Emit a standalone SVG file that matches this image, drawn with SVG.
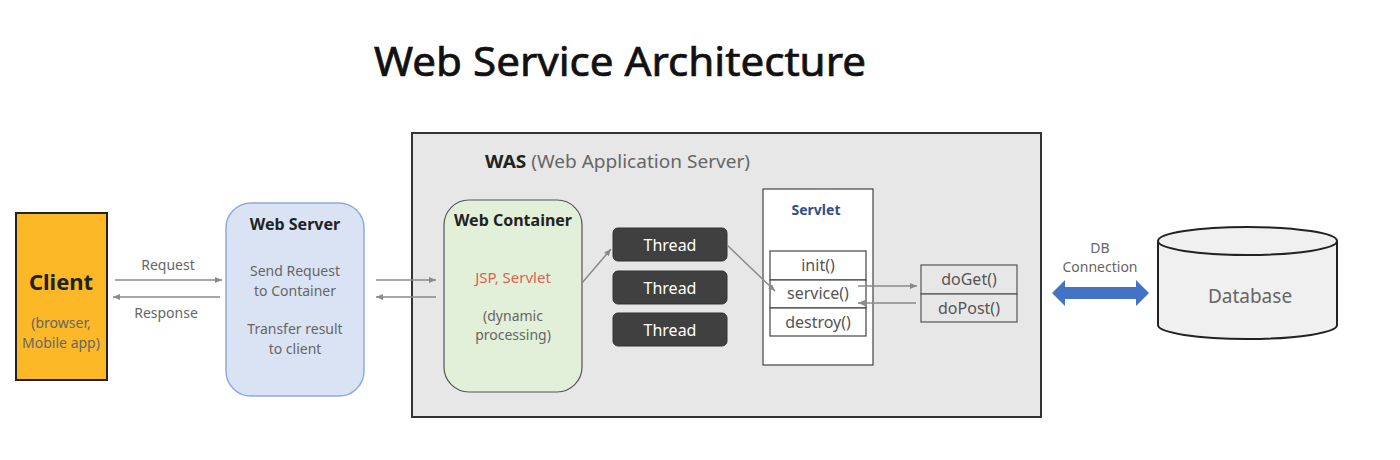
<svg xmlns="http://www.w3.org/2000/svg" width="1400" height="460" viewBox="0 0 1400 460">
<defs>
<marker id="ah" markerWidth="8" markerHeight="8" refX="7" refY="4" orient="auto" markerUnits="userSpaceOnUse">
<path d="M0,1 L7,4 L0,7 z" fill="#8a8a8a"/>
</marker>
<style>
text{font-family:"Noto Sans","Open Sans","Liberation Sans",sans-serif}
.g{fill:#666;font-size:14px;text-anchor:middle}
.b{fill:#222;font-weight:bold;text-anchor:middle}
.m{fill:#555;font-size:16px;text-anchor:middle}
.c{stroke:#8a8a8a;stroke-width:1.5;fill:none;marker-end:url(#ah)}
.box{fill:#fff;stroke:#444;stroke-width:1.2}
.th{fill:#404040;stroke:#333}
.tt{fill:#fff;font-size:16px;text-anchor:middle}
</style>
</defs>
<rect width="1400" height="460" fill="#fff"/>
<text x="620" y="76" font-size="40" fill="#111" stroke="#111" stroke-width="0.7" text-anchor="middle" textLength="492" lengthAdjust="spacingAndGlyphs">Web Service Architecture</text>

<g id="was">
<rect x="412" y="133" width="629" height="284" fill="#e7e7e7" stroke="#333" stroke-width="2"/>
<text x="485" y="168" font-size="18" fill="#666" textLength="265" lengthAdjust="spacingAndGlyphs"><tspan font-weight="bold" fill="#222">WAS</tspan> (Web Application Server)</text>
</g>

<g id="client">
<rect x="16" y="213" width="91" height="167" fill="#fdb827" stroke="#222" stroke-width="2"/>
<text x="61" y="290" class="b" font-size="22">Client</text>
<text x="61" y="328" class="g">(browser,</text>
<text x="61" y="348" class="g">Mobile app)</text>
</g>

<g id="webserver">
<rect x="226" y="203" width="138" height="193" rx="25" fill="#dae3f3" stroke="#8faadc" stroke-width="1.5"/>
<text x="295" y="230" class="b" font-size="16">Web Server</text>
<text x="295" y="276" class="g">Send Request</text>
<text x="295" y="296" class="g">to Container</text>
<text x="295" y="334" class="g">Transfer result</text>
<text x="295" y="354" class="g">to client</text>
</g>

<g id="webcontainer">
<rect x="444" y="200" width="138" height="192" rx="25" fill="#e2f0d9" stroke="#555" stroke-width="1.2"/>
<text x="513" y="226" class="b" font-size="16">Web Container</text>
<text x="513" y="283" font-size="15" fill="#e0604f" text-anchor="middle">JSP, Servlet</text>
<text x="513" y="321" class="g">(dynamic</text>
<text x="513" y="340" class="g">processing)</text>
</g>

<g id="thread1"><rect x="613" y="228" width="114" height="33" rx="5" class="th"/><text x="670" y="251" class="tt">Thread</text></g>
<g id="thread2"><rect x="613" y="271" width="114" height="33" rx="5" class="th"/><text x="670" y="294" class="tt">Thread</text></g>
<g id="thread3"><rect x="613" y="313" width="114" height="33" rx="5" class="th"/><text x="670" y="336" class="tt">Thread</text></g>

<g id="servlet">
<rect x="763" y="189" width="110" height="176" class="box"/>
<text x="816" y="215" font-size="14" font-weight="bold" fill="#2f4e8a" text-anchor="middle">Servlet</text>
<rect x="770" y="251" width="96" height="29" class="box"/>
<text x="818" y="271" class="m">init()</text>
<rect x="770" y="280" width="96" height="28" class="box"/>
<text x="818" y="299" class="m">service()</text>
<rect x="770" y="308" width="96" height="28" class="box"/>
<text x="818" y="328" class="m">destroy()</text>
</g>

<g id="doMethods">
<rect x="921" y="265" width="96" height="29" fill="#e7e7e7" stroke="#555" stroke-width="1.2"/>
<text x="969" y="285" class="m">doGet()</text>
<rect x="921" y="294" width="96" height="28" fill="#e7e7e7" stroke="#555" stroke-width="1.2"/>
<text x="969" y="314" class="m">doPost()</text>
</g>

<g id="database">
<path d="M1158,241 L1158,325 A89.5,14 0 0 0 1337,325 L1337,241" fill="#f0f0f0" stroke="#222" stroke-width="2"/>
<ellipse cx="1247.5" cy="241" rx="89.5" ry="14" fill="#f0f0f0" stroke="#222" stroke-width="2"/>
<text x="1250" y="303" font-size="19" fill="#666" text-anchor="middle">Database</text>
</g>

<g id="connectors">
<line x1="115" y1="280" x2="222" y2="280" class="c"/>
<text x="168" y="270" class="g">Request</text>
<line x1="220" y1="297" x2="113" y2="297" class="c"/>
<text x="166" y="318" class="g">Response</text>
<line x1="376" y1="280" x2="436" y2="280" class="c"/>
<line x1="436" y1="297" x2="376" y2="297" class="c"/>
<line x1="582" y1="283" x2="611" y2="249" class="c"/>
<line x1="727" y1="245" x2="775" y2="291" class="c"/>
<line x1="858" y1="286" x2="917" y2="286" class="c"/>
<line x1="916" y1="303" x2="858" y2="303" class="c"/>
<text x="1100" y="253" class="g" font-size="13">DB</text>
<text x="1100" y="272" class="g" font-size="13">Connection</text>
<path d="M1052,293 L1065,280 L1065,287 L1136,287 L1136,280 L1149,293 L1136,306 L1136,299 L1065,299 L1065,306 z" fill="#4472c4"/>
</g>
</svg>
